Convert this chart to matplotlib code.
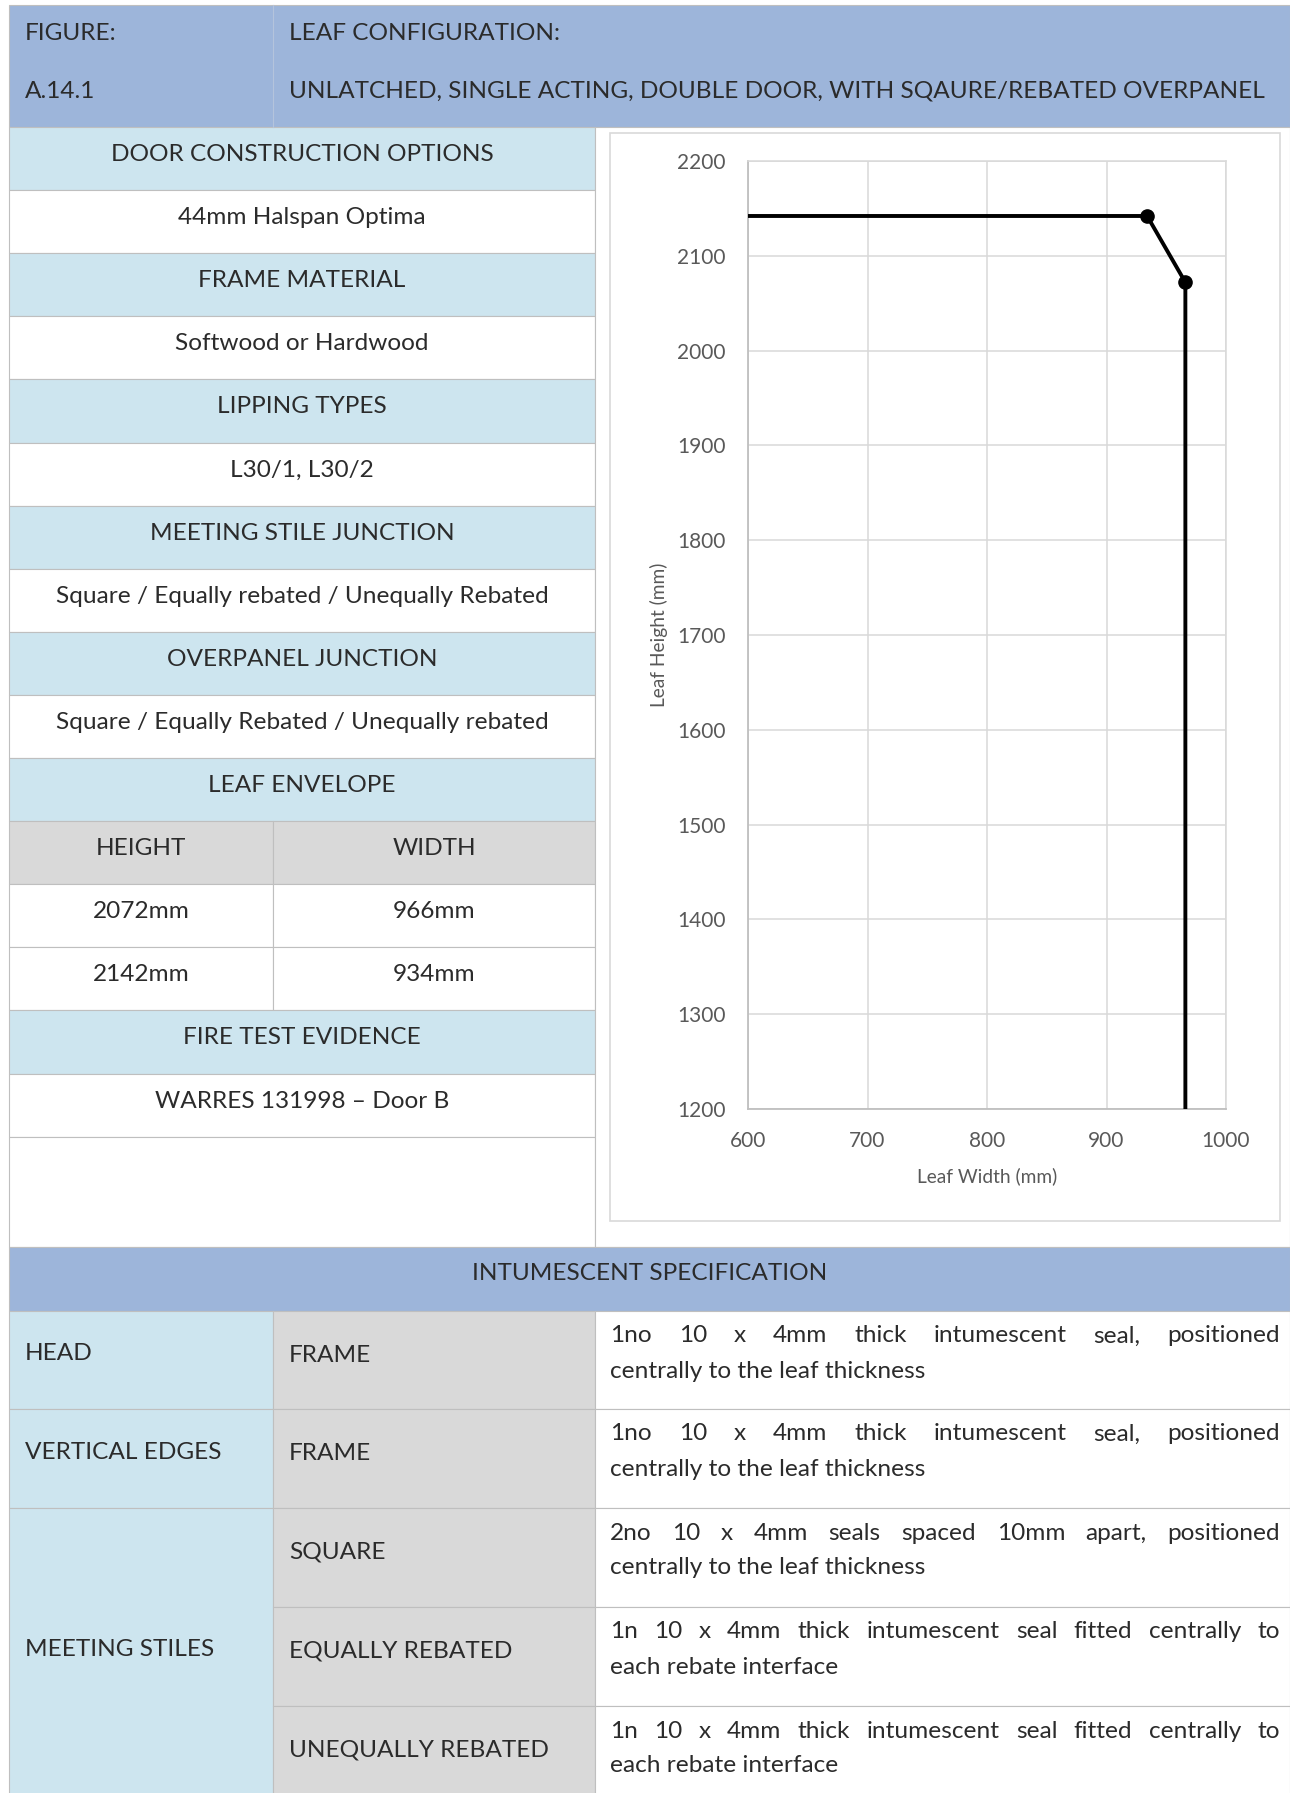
import matplotlib
matplotlib.use('Agg')
import matplotlib.pyplot as plt
from matplotlib.patches import Rectangle

W, H = 1290, 1793
FONT = ['Lato', 'DejaVu Sans']
TXT = '#2b2b2b'
BLUE_DARK = '#9db5da'
BLUE_LIGHT = '#cde5ef'
GREY = '#d9d9d9'
LINE = '#bfbfbf'
FS = 17.6

# leaf envelope curve (mm)
leaf_width = [600, 934, 966, 966]
leaf_height = [2142, 2142, 2072, 1200]
point_width = [934, 966]
point_height = [2142, 2072]
x_ticks = [600, 700, 800, 900, 1000]
y_ticks = [1200, 1300, 1400, 1500, 1600, 1700, 1800, 1900, 2000, 2100, 2200]

# header
fig_label = ['FIGURE:', 'A.14.1']
config_label = ['LEAF CONFIGURATION:',
                'UNLATCHED, SINGLE ACTING, DOUBLE DOOR, WITH SQAURE/REBATED OVERPANEL']

# left table, 'h' = light blue heading, 'v' = white value
left_rows = [
    ('DOOR CONSTRUCTION OPTIONS', 'h'),
    ('44mm Halspan Optima', 'v'),
    ('FRAME MATERIAL', 'h'),
    ('Softwood or Hardwood', 'v'),
    ('LIPPING TYPES', 'h'),
    ('L30/1, L30/2', 'v'),
    ('MEETING STILE JUNCTION', 'h'),
    ('Square / Equally rebated / Unequally Rebated', 'v'),
    ('OVERPANEL JUNCTION', 'h'),
    ('Square / Equally Rebated / Unequally rebated', 'v'),
    ('LEAF ENVELOPE', 'h'),
]
env_cols = ['HEIGHT', 'WIDTH']
env_heights = ['2072mm', '2142mm']
env_widths = ['966mm', '934mm']
evidence_title = 'FIRE TEST EVIDENCE'
evidence = 'WARRES 131998 \u2013 Door B'

# intumescent specification
spec_title = 'INTUMESCENT SPECIFICATION'
spec_parts = ['HEAD', 'VERTICAL EDGES', 'MEETING STILES']
part_spans = [1, 1, 3]
spec_items = ['FRAME', 'FRAME', 'SQUARE', 'EQUALLY REBATED', 'UNEQUALLY REBATED']
spec_text = [
    ('1no 10 x 4mm thick intumescent seal, positioned', 'centrally to the leaf thickness'),
    ('1no 10 x 4mm thick intumescent seal, positioned', 'centrally to the leaf thickness'),
    ('2no 10 x 4mm seals spaced 10mm apart, positioned', 'centrally to the leaf thickness'),
    ('1n 10 x 4mm thick intumescent seal fitted centrally to', 'each rebate interface'),
    ('1n 10 x 4mm thick intumescent seal fitted centrally to', 'each rebate interface'),
]

fig = plt.figure(figsize=(W / 100, H / 100), dpi=100)
bg = fig.add_axes([0, 0, 1, 1])
bg.set_xlim(0, W)
bg.set_ylim(H, 0)
bg.axis('off')


def cell(x0, y0, x1, y1, color):
    bg.add_patch(Rectangle((x0, y0), x1 - x0, y1 - y0, facecolor=color,
                           edgecolor=LINE, lw=0.8))


def put(x, y, s, ha='center'):
    return bg.text(x, y, s, ha=ha, va='center', fontsize=FS, color=TXT, family=FONT)


XL, XC1, XC2, XR = 9, 273, 595, 1290

# header
cell(XL, 5, XR, 127, BLUE_DARK)
bg.plot([XC1, XC1], [5, 127], color='#b4c4dc', lw=0.8)
put(25, 34, fig_label[0], 'left')
put(25, 91, fig_label[1], 'left')
put(289, 34, config_label[0], 'left')
put(289, 91, config_label[1], 'left')

# left table
rh = 63.1
y = 127
for txt, kind in left_rows:
    cell(XL, y, XC2, y + rh, BLUE_LIGHT if kind == 'h' else 'white')
    put((XL + XC2) / 2, y + 27.5, txt)
    y += rh
for i, col in enumerate(env_cols):
    xa, xb = [(XL, XC1), (XC1, XC2)][i]
    cell(xa, y, xb, y + rh, GREY)
    put((xa + xb) / 2, y + 27.5, col)
y += rh
for hv, wv in zip(env_heights, env_widths):
    cell(XL, y, XC1, y + rh, 'white')
    cell(XC1, y, XC2, y + rh, 'white')
    put((XL + XC1) / 2, y + 27.5, hv)
    put((XC1 + XC2) / 2, y + 27.5, wv)
    y += rh
cell(XL, y, XC2, y + rh, BLUE_LIGHT)
put((XL + XC2) / 2, y + 27.5, evidence_title)
y += rh
cell(XL, y, XC2, y + rh, 'white')
put((XL + XC2) / 2, y + 27.5, evidence)
y += rh
cell(XL, y, XC2, 1247, 'white')
cell(XC2, 127, XR, 1247, 'white')

# chart frame
bg.add_patch(Rectangle((610, 133), 670, 1088, facecolor='white',
                       edgecolor='#d9d9d9', lw=1.2))

# intumescent table
cell(XL, 1247, XR, 1311, BLUE_DARK)
put((XL + XR) / 2, 1273, spec_title)
row_edges = [1311, 1409, 1508, 1607, 1706, 1805]
k = 0
for part, span in zip(spec_parts, part_spans):
    ya, yb = row_edges[k], row_edges[k + span]
    cell(XL, ya, XC1, yb, BLUE_LIGHT)
    put(25, (ya + yb) / 2 - 6 if span == 1 else 1650, part, 'left')
    k += span

renderer = fig.canvas.get_renderer()


def justify(line, x0, x1, yy):
    words = line.split(' ')
    texts = [put(0, yy, w, 'left') for w in words]
    widths = [t.get_window_extent(renderer).width for t in texts]
    gap = (x1 - x0 - sum(widths)) / (len(words) - 1)
    xx = x0
    for t, w in zip(texts, widths):
        t.set_x(xx)
        xx += w + gap


for i, item in enumerate(spec_items):
    ya, yb = row_edges[i], row_edges[i + 1]
    cell(XC1, ya, XC2, yb, GREY)
    cell(XC2, ya, XR, yb, 'white')
    put(289, ya + 44, item, 'left')
    first, second = spec_text[i]
    justify(first, 610, 1280, ya + 25)
    put(610, ya + 60, second, 'left')

# chart
ax = fig.add_axes([748 / W, 1 - 1109 / H, (1226 - 748) / W, (1109 - 161) / H])
ax.set_facecolor('white')
ax.plot(leaf_width, leaf_height, color='black', lw=2.8, solid_joinstyle='round', zorder=3)
ax.plot(point_width, point_height, 'o', color='black', ms=9.5, zorder=4)
ax.set_xlim(600, 1000)
ax.set_ylim(1200, 2200)
ax.set_xticks(x_ticks)
ax.set_yticks(y_ticks)
ax.grid(True, color='#d9d9d9', lw=1.1)
ax.set_axisbelow(True)
for side in ['top', 'right']:
    ax.spines[side].set_color('#d9d9d9')
    ax.spines[side].set_linewidth(1.1)
for side in ['left', 'bottom']:
    ax.spines[side].set_color('#bfbfbf')
    ax.spines[side].set_linewidth(1.3)
ax.tick_params(length=0, pad=16, labelsize=15, labelcolor='#595959')
for lab in ax.get_xticklabels() + ax.get_yticklabels():
    lab.set_family(FONT)
ax.set_xlabel('Leaf Width (mm)', fontsize=13.8, color='#595959', family=FONT)
ax.set_ylabel('Leaf Height (mm)', fontsize=13.8, color='#595959', family=FONT)
ax.xaxis.set_label_coords(0.5, -0.061)
ax.yaxis.set_label_coords(-0.167, 0.5)

fig.savefig('out.png', dpi=100)
